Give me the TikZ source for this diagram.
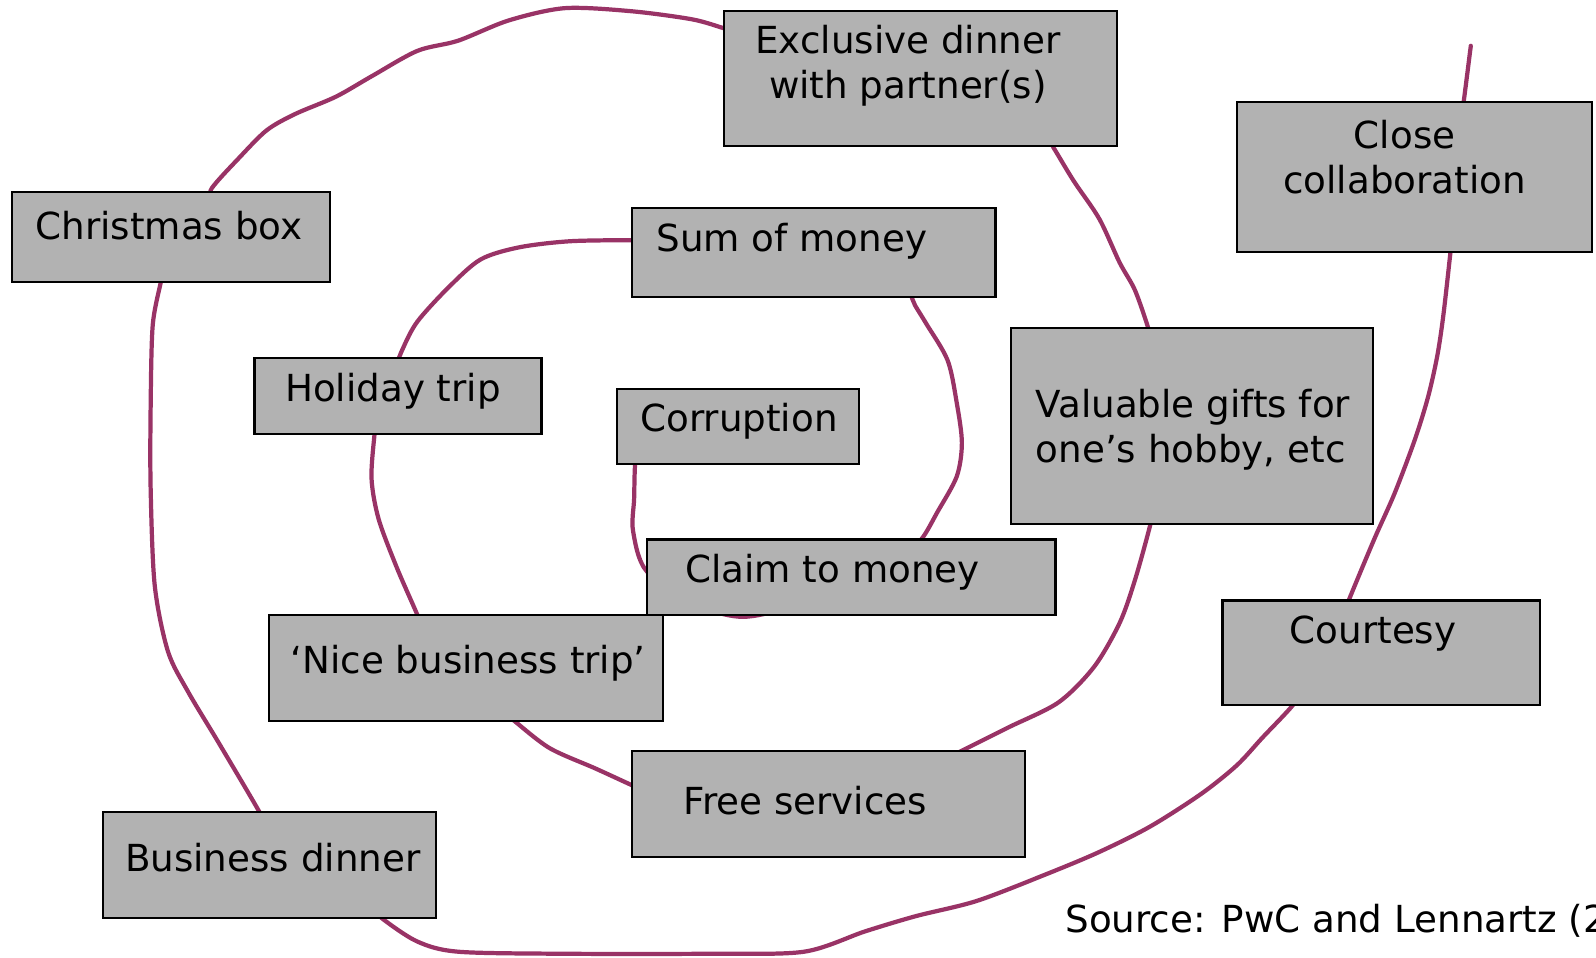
\documentclass[tikz,border=0pt]{standalone}
\usepackage{fontspec}
\setmainfont{DejaVu Sans}
\usepackage{xcolor}
\usepackage{tikz}
\usetikzlibrary{fit, backgrounds}
\definecolor{boxgray}{RGB}{178,178,178}
\definecolor{spiralpurple}{RGB}{153,51,102}
\tikzstyle{gift} = [rectangle, draw=black, line width=0.6pt, fill=boxgray, inner sep=0pt]
\tikzstyle{gifttext} = [inner sep=0pt, text=black, font=\fontsize{10.6}{12.8}\selectfont]
\tikzstyle{spiral} = [draw=spiralpurple, line width=1.2pt, line join=round, line cap=round, smooth, tension=0.5]

\begin{document}
\begin{tikzpicture}[x=0.1018mm, y=-0.1018mm]
        \useasboundingbox (0,0) rectangle (1568,941);
        \node[gift, fit={(711,11) (1097,143)}] (dinner) {};
        \node[gift, fit={(12,189) (324,277)}] (xmas) {};
        \node[gift, fit={(621,204) (978,292)}] (money) {};
        \node[gift, fit={(250,352) (532,426)}] (holiday) {};
        \node[gift, fit={(606,382) (844,456)}] (corr) {};
        \node[gift, fit={(636,530) (1037,604)}] (claim) {};
        \node[gift, fit={(993,322) (1349,515)}] (valuable) {};
        \node[gift, fit={(1215,100) (1564,248)}] (close) {};
        \node[gift, fit={(264,604) (651,708)}] (nice) {};
        \node[gift, fit={(1201,590) (1513,693)}] (courtesy) {};
        \node[gift, fit={(621,738) (1007,842)}] (free) {};
        \node[gift, fit={(101,798) (428,902)}] (business) {};

        \node[gifttext, align=center] (dinnerT) at (892,65) {Exclusive dinner\\with partner(s)};
        \node[gifttext] (xmasT) at (166,222) {Christmas box};
        \node[gifttext] (moneyT) at (778,237) {Sum of money};
        \node[gifttext] (holidayT) at (386,384) {Holiday trip};
        \node[gifttext] (corrT) at (726,414) {Corruption};
        \node[gifttext] (claimT) at (818,562) {Claim to money};
        \node[gifttext, align=left] (valuableT) at (1172,422) {Valuable gifts for\\one’s hobby, etc};
        \node[gifttext, align=center] (closeT) at (1380,154) {Close\\collaboration};
        \node[gifttext] (niceT) at (460,652) {‘Nice business trip’};
        \node[gifttext] (courtesyT) at (1349,622) {Courtesy};
        \node[gifttext] (freeT) at (791,787) {Free services};
        \node[gifttext] (businessT) at (268,843) {Business dinner};
        \node[gifttext, anchor=west] (source) at (1046,905) {Source: PwC and Lennartz (2};
        \coordinate (tail) at (1445,45);

        \begin{pgfonlayer}{background}
        \fill[white] (0,0) rectangle (1568,941);
        \draw[spiral] plot coordinates {(corr.center) (628,440) (624,456) (623,490) (622,522) (636,562) (690,596) (730,606) (775,596) (claim.center)};
        \draw[spiral] plot coordinates {(claim.center) (885,545) (905,530) (921,503) (940,468) (945,435) (940,396) (931,354) (910,318) (899,300) (896,293) (890,275) (money.center)};
        \draw[spiral] plot coordinates {(money.center) (640,237) (622,236) (560,237) (510,243) (472,255) (440,283) (410,316) (396,342) (390,360) (holiday.center)};
        \draw[spiral] plot coordinates {(holiday.center) (370,410) (368,426) (365,470) (372,510) (390,558) (410,604) (420,630) (nice.center)};
        \draw[spiral] plot coordinates {(nice.center) (490,695) (505,708) (540,735) (585,755) (622,772) (650,785) (free.center)};
        \draw[spiral] plot coordinates {(free.center) (920,750) (940,740) (990,715) (1040,690) (1075,655) (1100,612) (1115,570) (1130,516) (1135,490) (valuable.center)};
        \draw[spiral] plot coordinates {(valuable.center) (1132,340) (1128,322) (1115,285) (1100,258) (1080,215) (1055,178) (1035,145) (1025,130) (dinner.center)};
        \draw[spiral] plot coordinates {(dinner.center) (730,33) (712,28) (680,19) (620,11) (555,8) (500,20) (450,40) (410,50) (365,75) (330,95) (290,112) (262,128) (235,155) (208,185) (205,200) (xmas.center)};
        \draw[spiral] plot coordinates {(xmas.center) (160,265) (158,277) (150,320) (148,400) (148,480) (152,575) (165,640) (185,680) (215,730) (255,798) (262,815) (business.center)};
        \draw[spiral] plot coordinates {(business.center) (365,890) (375,902) (410,925) (450,935) (550,937) (700,937) (790,935) (850,915) (900,900) (960,885) (1030,858) (1080,837) (1130,812) (1180,780) (1215,752) (1240,725) (1270,693) (1285,670) (courtesy.center)};
        \draw[spiral] plot coordinates {(courtesy.center) (1320,605) (1325,590) (1350,530) (1370,485) (1390,432) (1403,390) (1412,350) (1418,310) (1425,248) (1427,230) (close.center)};
        \draw[spiral] plot coordinates {(close.center) (1435,120) (1438,100) (tail)};
        \end{pgfonlayer}
\end{tikzpicture}
\end{document}
